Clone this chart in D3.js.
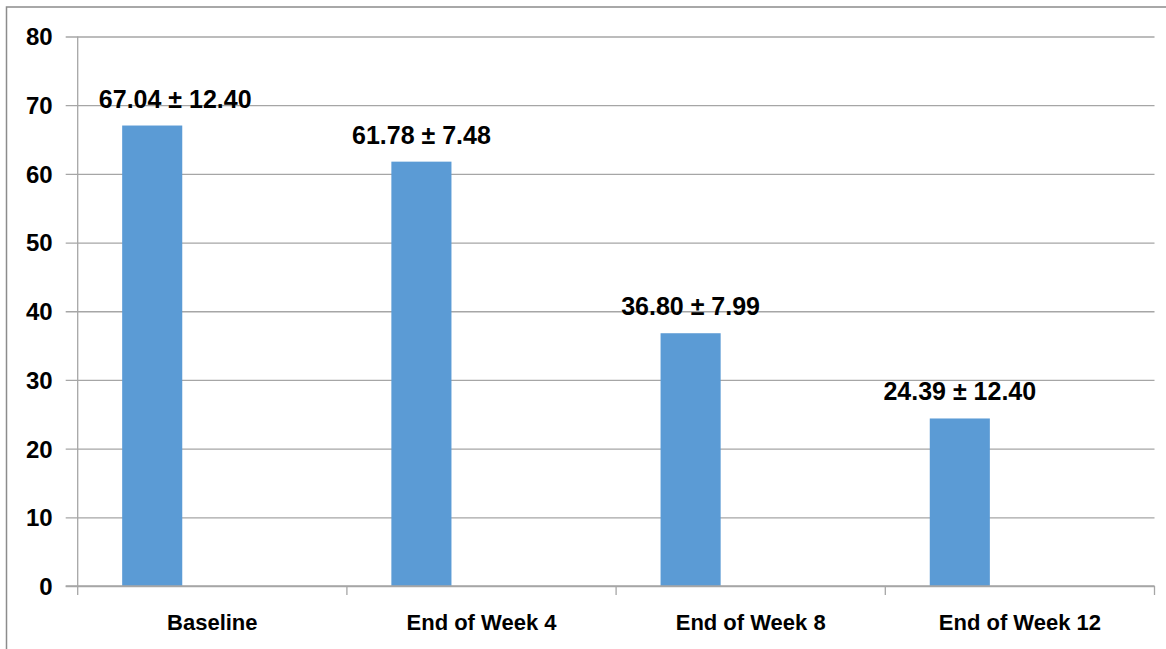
<!DOCTYPE html>
<html>
<head>
<meta charset="utf-8">
<script src="https://cdn.jsdelivr.net/npm/d3@7"></script>
<style>
  body { margin: 0; background: #fff; overflow: hidden; }
  svg { display: block; font-family: "Liberation Sans", Arial, sans-serif; }
</style>
</head>
<body>
<svg width="1166" height="649"></svg>
<script>
var categories = ["Baseline", "End of Week 4", "End of Week 8", "End of Week 12"]
var means = [67.04, 61.78, 36.80, 24.39]
var sds = [12.40, 7.48, 7.99, 12.40]
var yTicks = [0, 10, 20, 30, 40, 50, 60, 70, 80]

var svg = d3.select("svg")
var gridColor = "#a6a6a6"
var barColor = "#5b9bd5"

// outer frame (cut off on the right and bottom in the original)
svg.append("rect")
    .attr("x", 6.5).attr("y", 7)
    .attr("width", 1200).attr("height", 700)
    .attr("fill", "none").attr("stroke", "#8c8c8c").attr("stroke-width", 1.5)

var plotL = 77.7, plotR = 1154.5, plotT = 36.5, plotB = 586

var x = d3.scaleBand().domain(categories).range([plotL, plotR]).padding(0)
var y = d3.scaleLinear().domain([0, 80]).range([plotB, plotT])
// excel style cluster slot: bar sits in the first of three slots
var slot = d3.scaleBand().domain([0, 1, 2]).range([0, x.bandwidth()]).paddingOuter(0.74)

// gridlines + y ticks
var yAxis = d3.axisLeft(y).tickValues(yTicks).tickSize(-(plotR - plotL)).tickSizeOuter(0)
var gy = svg.append("g").attr("transform", "translate(" + plotL + ",0)").call(yAxis)
gy.select(".domain").remove()
gy.selectAll(".tick line").attr("stroke", gridColor).attr("stroke-width", 1.3).attr("x1", -12)
gy.selectAll(".tick text")
    .attr("fill", "#000").attr("font-size", 24).attr("font-weight", "bold")
    .attr("x", -25).attr("dy", "0.35em")

// y axis line
svg.append("line")
    .attr("x1", plotL).attr("x2", plotL).attr("y1", plotT).attr("y2", plotB)
    .attr("stroke", gridColor).attr("stroke-width", 1.3)

// bars
svg.selectAll(".bar").data(means).enter().append("rect")
    .attr("class", "bar")
    .attr("x", function(d, i) { return x(categories[i]) + slot(0) })
    .attr("y", function(d) { return y(d) })
    .attr("width", slot.bandwidth())
    .attr("height", function(d) { return y(0) - y(d) })
    .attr("fill", barColor)

// x axis with ticks at the category boundaries
svg.append("line")
    .attr("x1", plotL - 12).attr("x2", plotR).attr("y1", plotB).attr("y2", plotB)
    .attr("stroke", gridColor).attr("stroke-width", 1.3)
var edges = categories.map(function(c) { return x(c) }).concat([plotR])
svg.selectAll(".xtick").data(edges).enter().append("line")
    .attr("class", "xtick")
    .attr("x1", function(d) { return d }).attr("x2", function(d) { return d })
    .attr("y1", plotB).attr("y2", plotB + 9)
    .attr("stroke", gridColor).attr("stroke-width", 1.3)

svg.selectAll(".cat").data(categories).enter().append("text")
    .attr("class", "cat")
    .attr("x", function(d) { return x(d) + x.bandwidth() / 2 })
    .attr("y", 630)
    .attr("text-anchor", "middle")
    .attr("font-size", 22).attr("font-weight", "bold")
    .text(function(d) { return d })

// value labels, first one was nudged right in the original
svg.selectAll(".lbl").data(means).enter().append("text")
    .attr("class", "lbl")
    .attr("x", function(d, i) { return x(categories[i]) + slot(0) + slot.bandwidth() / 2 + (i === 0 ? 23 : 0) })
    .attr("y", function(d) { return y(d) - 18 })
    .attr("text-anchor", "middle")
    .attr("font-size", 25).attr("font-weight", "bold")
    .text(function(d, i) { return d.toFixed(2) + " \u00b1 " + sds[i].toFixed(2) })
</script>
</body>
</html>
